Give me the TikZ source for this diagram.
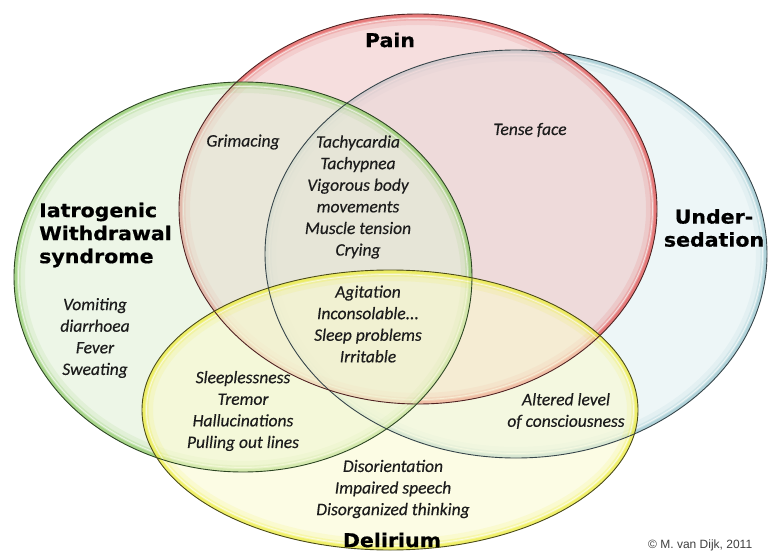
\documentclass[tikz,border=0pt]{standalone}
\usepackage{fontspec}
\setmainfont{Carlito}[ItalicFeatures={FakeBold=0.35}]
\newfontfamily\headfont[FakeStretch=1.08, BoldFeatures={FakeBold=0.6}]{DejaVu Sans}
\newfontfamily\notefont{Liberation Sans}

% translucent fills and glow colours for each set
\definecolor{painfill}{RGB}{240,195,195}
\definecolor{painglow}{RGB}{225,60,60}
\definecolor{painline}{RGB}{80,35,35}
\definecolor{sedfill}{RGB}{224,239,241}
\definecolor{sedglow}{RGB}{140,190,200}
\definecolor{sedline}{RGB}{55,70,75}
\definecolor{iwsfill}{RGB}{224,239,213}
\definecolor{iwsglow}{RGB}{125,195,80}
\definecolor{iwsline}{RGB}{45,70,35}
\definecolor{delfill}{RGB}{251,251,206}
\definecolor{delglow}{RGB}{235,235,30}
\definecolor{delline}{RGB}{75,75,25}
\definecolor{txt}{RGB}{28,28,28}

% a set: translucent fill and a soft glow inside the rim
\newcommand\vennfill[5]{% centre x, centre y, x radius, y radius, colour prefix
  \fill[#5fill, fill opacity=0.55] (#1,#2) ellipse [x radius=#3pt, y radius=#4pt];
  \begin{scope}
    \clip (#1,#2) ellipse [x radius=#3pt, y radius=#4pt];
    \draw[#5glow, line width=22pt, opacity=0.10] (#1,#2) ellipse [x radius=#3pt, y radius=#4pt];
    \draw[#5glow, line width=13pt, opacity=0.20] (#1,#2) ellipse [x radius=#3pt, y radius=#4pt];
    \draw[#5glow, line width=6pt, opacity=0.45] (#1,#2) ellipse [x radius=#3pt, y radius=#4pt];
    \draw[white, line width=0.8pt, opacity=0.6] (#1,#2) ellipse [x radius=#3pt-4.5pt, y radius=#4pt-4.5pt];
  \end{scope}
}
% the thin dark outline of a set
\newcommand\vennrim[5]{%
  \draw[#5line, line width=0.9pt] (#1,#2) ellipse [x radius=#3pt, y radius=#4pt];
}

\tikzset{
  title/.style={font=\headfont\bfseries\fontsize{19}{23}\selectfont, text=black, inner sep=0pt},
  sign/.style={font=\itshape\fontsize{17.5}{21.6}\selectfont, text=txt, align=center, inner sep=0pt},
  credit/.style={font=\notefont\fontsize{12}{14}\selectfont, text=black!75, inner sep=0pt, anchor=north west}
}

\begin{document}
\begin{tikzpicture}[x=1pt,y=-1pt]
\useasboundingbox (0,0) rectangle (781,553);
\fill[white] (0,0) rectangle (781,553);

% the four sets, fills first, outlines on top
\vennfill{516}{254}{251}{204}{sed}
\vennfill{418}{209}{239}{195}{pain}
\vennfill{243}{277}{229}{195}{iws}
\vennfill{390}{410}{248}{140}{del}
\vennrim{516}{254}{251}{204}{sed}
\vennrim{418}{209}{239}{195}{pain}
\vennrim{243}{277}{229}{195}{iws}
\vennrim{390}{410}{248}{140}{del}

% set names
\node[title] (pain) at (390,40) {Pain};
\node[title, align=center] (sed) at (714,228) {Under-\\sedation};
\node[title, align=left, anchor=west] (iws) at (39,235) {Iatrogenic\\Withdrawal\\syndrome};
\node[title] (del) at (392,540) {Delirium};

% signs and symptoms
\node[sign] (iwsonly) at (95,338) {Vomiting\\diarrhoea\\Fever\\Sweating};
\node[sign] (grim) at (243,142) {Grimacing};
\node[sign] (tachy) at (358,197) {Tachycardia\\Tachypnea\\Vigorous body\\movements\\Muscle tension\\Crying};
\node[sign] (tense) at (530,130) {Tense face};
\node[sign] (agit) at (368,324) {Agitation\\Inconsolable...\\Sleep problems\\Irritable};
\node[sign] (sleep) at (243,411) {Sleeplessness\\Tremor\\Hallucinations\\Pulling out lines};
\node[sign] (alter) at (566,411) {Altered level\\of consciousness};
\node[sign] (disor) at (393,489) {Disorientation\\Impaired speech\\Disorganized thinking};

% copyright line at the lower edge
\node[credit] (copy) at (648,540) {\textcopyright\ M. van Dijk, 2011};
\end{tikzpicture}
\end{document}
